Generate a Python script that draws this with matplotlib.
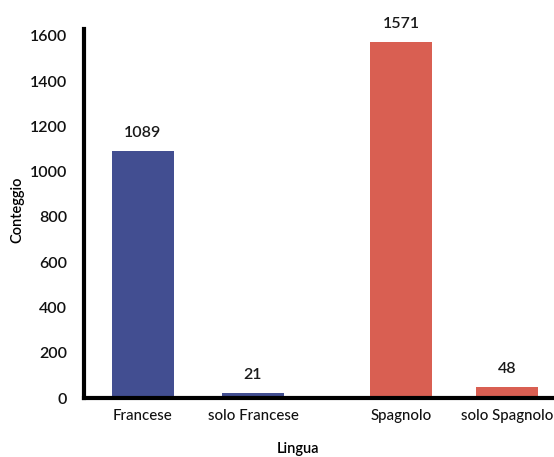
import matplotlib
matplotlib.use("Agg")
import matplotlib.pyplot as plt

# Counts per language group
categories = ["Francese", "solo Francese", "Spagnolo", "solo Spagnolo"]
counts = [1089, 21, 1571, 48]
bar_colors = ["#424E91", "#424E91", "#D95F52", "#D95F52"]
y_ticks = [0, 200, 400, 600, 800, 1000, 1200, 1400, 1600]

plt.rcParams["font.family"] = ["Lato", "DejaVu Sans"]
plt.rcParams["font.weight"] = "medium"

fig = plt.figure(figsize=(5.54, 4.57), dpi=100)
ax = fig.add_axes([84 / 554, 1 - 398 / 457, (560 - 84) / 554, (398 - 29) / 457])

positions = [0, 1, 2.345, 3.31]
bars = ax.bar(positions, counts, width=0.565, color=bar_colors)

for rect, val in zip(bars, counts):
    ax.annotate(f"{val}", (rect.get_x() + rect.get_width() / 2, rect.get_height()),
                xytext=(0, 8), textcoords="offset points",
                ha="center", va="bottom", fontsize=11.5, color="#1a1a1a",
                fontweight="semibold")

ax.set_xlim(-0.535, 3.79)
ax.set_ylim(0, 1630)
ax.set_xticks(positions)
ax.set_xticklabels(categories, fontsize=10.8, fontweight="medium")
ax.set_yticks(y_ticks)
ax.set_yticklabels([str(t) for t in y_ticks], fontsize=11.5, fontweight="semibold")
ax.tick_params(axis="both", length=0, colors="#111111")
ax.tick_params(axis="x", pad=8)
ax.tick_params(axis="y", pad=12)

ax.set_xlabel("Lingua", fontsize=10.5, fontweight="semibold", va="center")
ax.set_ylabel("Conteggio", fontsize=10.5, fontweight="semibold", va="center")
ax.xaxis.set_label_coords(0.45, -0.137)
ax.yaxis.set_label_coords(-0.139, 0.51)

for side in ("top", "right"):
    ax.spines[side].set_visible(False)
for side in ("left", "bottom"):
    ax.spines[side].set_linewidth(3)
    ax.spines[side].set_color("black")

fig.savefig("out.png", dpi=100)
